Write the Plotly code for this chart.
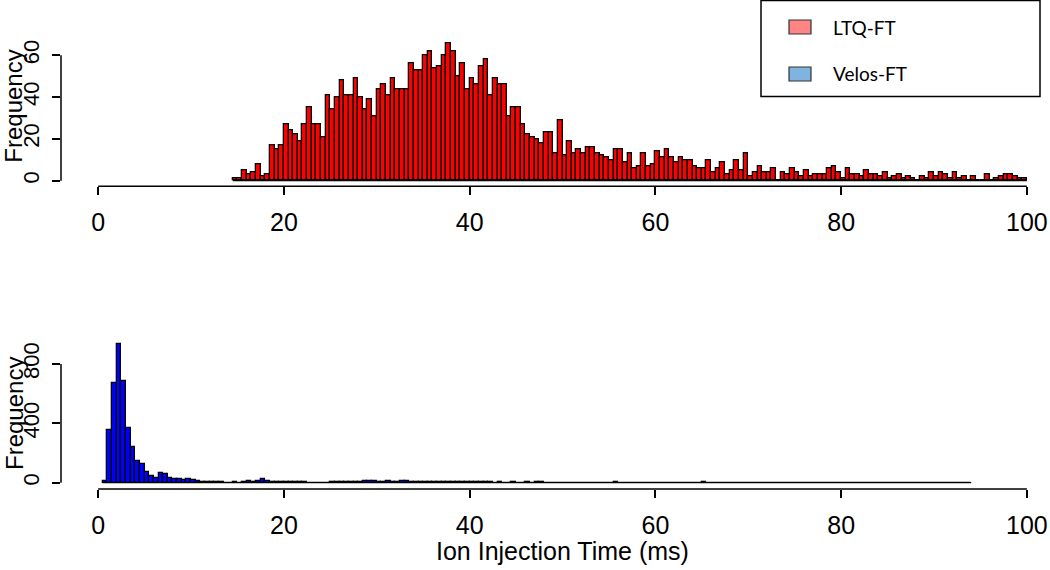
import numpy as np
import plotly.graph_objects as go

W, H = 1050, 570

# ---------------- data ----------------
bin_width = 0.5

ltq_first_edge = 14.5
ltq_counts = [
    1, 1, 5, 3, 4, 8, 2, 3, 17, 15, 17, 27, 24, 22, 19, 27, 35, 27, 27, 21,
    41, 34, 40, 48, 41, 41, 49, 40, 34, 39, 31, 44, 46, 41, 49, 44, 44, 44, 56, 53,
    53, 60, 62, 54, 55, 60, 66, 62, 50, 56, 44, 49, 46, 55, 58, 41, 49, 46, 46, 31,
    35, 35, 27, 22, 21, 20, 18, 23, 23, 13, 29, 12, 19, 13, 15, 13, 16, 16, 13, 12,
    11, 10, 15, 15, 9, 13, 6, 7, 13, 7, 8, 14, 11, 15, 11, 9, 11, 10, 10, 7,
    6, 6, 10, 4, 6, 9, 3, 5, 10, 5, 13, 2, 4, 7, 4, 4, 6, 0, 4, 3,
    6, 4, 2, 5, 2, 3, 3, 3, 6, 7, 4, 1, 6, 3, 3, 2, 5, 3, 3, 2,
    4, 1, 2, 3, 1, 2, 1, 0, 2, 1, 4, 2, 4, 3, 1, 4, 1, 2, 0, 2,
    0, 0, 3, 0, 1, 2, 3, 3, 2, 1, 1,
]

velos_first_edge = 0.5
velos_counts = [
    13, 355, 674, 937, 685, 371, 238, 148, 128, 72,
    45, 29, 65, 56, 34, 27, 27, 20, 22, 18,
    11, 7, 4, 3, 2, 2, 1, 1, 2, 1,
    3, 10, 8, 14, 27, 12, 6, 4, 3, 8,
    4, 3, 3, 2, 0, 0, 0, 0, 0, 3,
    2, 3, 4, 3, 2, 8, 9, 10, 9, 8,
    6, 9, 3, 3, 9, 10, 8, 3, 2, 3,
    2, 2, 3, 2, 3, 6, 5, 6, 2, 3,
    7, 8, 6, 2, 1, 2, 1, 1, 2, 1,
    1, 2, 1, 6, 2,
    1, 1, 0, 1, 1, 0, 1, 1, 0, 1, 1, 0, 1, 1, 0,
    6, 1,
    1, 0, 1, 1, 0, 1, 0, 1, 1, 0, 1, 0, 1, 1, 0, 1, 0,
    6, 1,
    0, 1, 1, 0, 1, 0, 1, 0, 0, 1,
    1, 0, 1, 0, 1, 0, 0, 1, 0, 1,
    1, 0, 1, 0, 0, 1, 0, 1, 0, 1,
    1, 0, 0, 1, 0, 1, 0, 0, 1, 0,
    1, 1, 0, 1, 0, 0, 1, 0, 1, 0,
    1, 0, 0, 1, 0, 1,
]

x_ticks = [0, 20, 40, 60, 80, 100]
ltq_y_ticks = [0, 20, 40, 60]
velos_y_ticks = [0, 400, 800]

legend_labels = ["LTQ-FT", "Velos-FT"]
legend_fill = ["#FF8585", "#80B4E0"]
bar_fill = ["#FF0000", "#0000FF"]

y_title = "Frequency"
x_title = "Ion Injection Time (ms)"

# ---------------- layout helpers ----------------
def py(p):
    """pixel y (from top) -> paper y"""
    return 1 - p / H

def px(p):
    return p / W

X_RANGE = [-4.0, 102.49]
X_DOMAIN = [61 / W, 1.0]

TOP_Y_RANGE = [-2.64, 68.64]
TOP_Y_DOMAIN = [py(186.2), py(37.2)]
BOT_Y_RANGE = [-42.5, 975.1]
BOT_Y_DOMAIN = [py(489.0), py(338.0)]

AX_FONT = dict(family="Liberation Sans, Arial, sans-serif", size=25, color="black")
Y_FONT = dict(family="Liberation Sans, Arial, sans-serif", size=22, color="black")
LINE_W = 1.5


def bar_trace(first_edge, counts, color, xa, ya):
    counts = np.asarray(counts, dtype=float)
    edges = first_edge + bin_width * np.arange(len(counts))
    centers = edges + bin_width / 2
    return go.Bar(
        x=centers, y=counts, width=bin_width,
        marker=dict(color=color, line=dict(color="black", width=1.3)),
        xaxis=xa, yaxis=ya, showlegend=False, hoverinfo="x+y",
    )


fig = go.Figure()
fig.add_trace(bar_trace(ltq_first_edge, ltq_counts, bar_fill[0], "x", "y"))
fig.add_trace(bar_trace(velos_first_edge, velos_counts, bar_fill[1], "x2", "y2"))

xaxis_common = dict(
    range=X_RANGE, domain=X_DOMAIN, showgrid=False, zeroline=False, showline=False,
    ticks="outside", ticklen=8, tickwidth=LINE_W, tickcolor="black",
    tickmode="array", tickvals=x_ticks, ticktext=[str(v) for v in x_ticks],
    tickfont=AX_FONT, ticklabelstandoff=6, fixedrange=True,
)
yaxis_common = dict(
    showgrid=False, zeroline=False, showline=False,
    ticks="outside", ticklen=8, tickwidth=LINE_W, tickcolor="black",
    tickmode="array", tickangle=-90, tickfont=Y_FONT, ticklabelstandoff=4,
    fixedrange=True,
)

fig.update_layout(
    width=W, height=H,
    margin=dict(l=0, r=0, t=0, b=0),
    paper_bgcolor="white", plot_bgcolor="white",
    bargap=0,
    xaxis=dict(anchor="y", **xaxis_common),
    xaxis2=dict(anchor="y2", **xaxis_common),
    yaxis=dict(anchor="x", range=TOP_Y_RANGE, domain=TOP_Y_DOMAIN,
               tickvals=ltq_y_ticks, ticktext=[str(v) for v in ltq_y_ticks],
               **yaxis_common),
    yaxis2=dict(anchor="x2", range=BOT_Y_RANGE, domain=BOT_Y_DOMAIN,
                tickvals=velos_y_ticks, ticktext=[str(v) for v in velos_y_ticks],
                **yaxis_common),
)

shapes = []
line = dict(color="black", width=LINE_W)
# detached R-style axis lines
for xr, yr, yt in (("x", "y", ltq_y_ticks), ("x2", "y2", velos_y_ticks)):
    shapes.append(dict(type="line", xref=xr, yref=yr + " domain",
                       x0=x_ticks[0], x1=x_ticks[-1], y0=0, y1=0, line=line))
    shapes.append(dict(type="line", xref=xr + " domain", yref=yr,
                       x0=0, x1=0, y0=yt[0], y1=yt[-1], line=line))
# zero-count baselines of the histograms
for xr, yr, fe, cnt in (("x", "y", ltq_first_edge, ltq_counts),
                        ("x2", "y2", velos_first_edge, velos_counts)):
    shapes.append(dict(type="line", xref=xr, yref=yr, x0=fe,
                       x1=fe + bin_width * len(cnt), y0=0, y1=0,
                       line=dict(color="black", width=1.3)))

# legend box
shapes.append(dict(type="rect", xref="paper", yref="paper",
                   x0=px(761), x1=px(1040), y0=py(96.5), y1=py(0.6),
                   line=dict(color="black", width=LINE_W), fillcolor="white"))
annotations = []
for i, (lab, col) in enumerate(zip(legend_labels, legend_fill)):
    yc = 27 + 47 * i
    shapes.append(dict(type="rect", xref="paper", yref="paper",
                       x0=px(789), x1=px(811), y0=py(yc + 7), y1=py(yc - 7),
                       line=dict(color="#333333", width=1.2), fillcolor=col))
    annotations.append(dict(xref="paper", yref="paper", x=px(831), y=py(yc),
                            text=lab, showarrow=False, xanchor="left", yanchor="middle",
                            font=dict(family="Lato, Open Sans, sans-serif", size=19, color="black")))

# axis titles
for yc in (106.7, 414.0):
    annotations.append(dict(xref="paper", yref="paper", x=px(14), y=py(yc),
                            text=y_title, textangle=-90, showarrow=False,
                            xanchor="center", yanchor="middle",
                            font=dict(family="Liberation Sans, Arial, sans-serif", size=24, color="black")))
annotations.append(dict(xref="paper", yref="paper", x=px(562.6), y=py(551),
                        text=x_title, showarrow=False, xanchor="center", yanchor="middle",
                        font=dict(family="Liberation Sans, Arial, sans-serif", size=25, color="black")))

fig.update_layout(shapes=shapes, annotations=annotations)
fig.write_html(
    "out.html",
    config={"displayModeBar": False},
    post_script="document.body.style.margin='0px';document.body.style.overflow='hidden';",
)
